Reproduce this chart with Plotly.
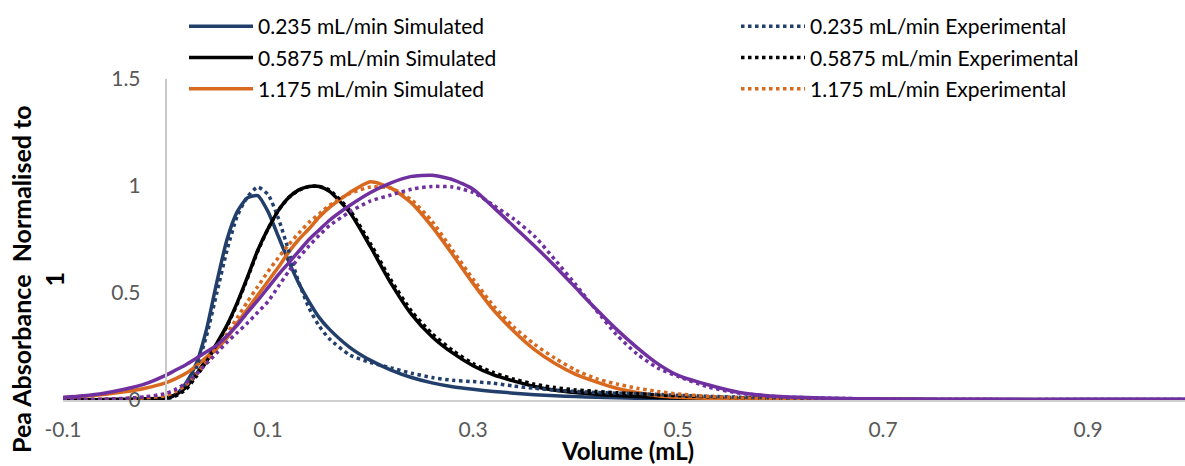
import plotly.graph_objects as go

# Elution volume grid (mL) shared by all profiles
volume = [-0.1, -0.08, -0.06, -0.04, -0.02, 0.0,
          0.01, 0.02, 0.03, 0.04, 0.05, 0.06, 0.07, 0.08, 0.09, 0.10,
          0.11, 0.12, 0.13, 0.14, 0.15, 0.16,
          0.18, 0.20, 0.22, 0.24, 0.26, 0.28, 0.30, 0.32, 0.34, 0.36,
          0.38, 0.40, 0.42, 0.44, 0.46, 0.48, 0.50,
          0.53, 0.56, 0.60, 0.65, 0.70, 0.80, 0.90, 1.0]

# Normalised absorbance profiles
sim_0235 = [0.0, 0.0, 0.0, 0.0, 0.001, 0.005,
            0.025, 0.08, 0.17, 0.33, 0.55, 0.75, 0.88, 0.945, 0.955, 0.88,
            0.765, 0.65, 0.545, 0.46, 0.385, 0.33,
            0.245, 0.185, 0.14, 0.105, 0.08, 0.062, 0.05, 0.04, 0.032, 0.025,
            0.02, 0.016, 0.013, 0.01, 0.008, 0.006, 0.005,
            0.004, 0.003, 0.002, 0.001, 0.001, 0.0, 0.0, 0.0]
exp_0235 = [0.0, 0.0, 0.0, 0.001, 0.002, 0.005,
            0.02, 0.07, 0.15, 0.30, 0.50, 0.70, 0.86, 0.95, 0.995, 0.96,
            0.85, 0.70, 0.55, 0.43, 0.345, 0.285,
            0.21, 0.175, 0.15, 0.125, 0.105, 0.092, 0.086, 0.078, 0.065, 0.055,
            0.046, 0.04, 0.035, 0.032, 0.03, 0.026, 0.022,
            0.017, 0.013, 0.01, 0.007, 0.005, 0.003, 0.002, 0.002]
sim_05875 = [0.0, 0.001, 0.002, 0.004, 0.006, 0.01,
             0.025, 0.06, 0.12, 0.19, 0.265, 0.35, 0.455, 0.575, 0.70, 0.80,
             0.885, 0.945, 0.982, 0.998, 0.998, 0.975,
             0.875, 0.715, 0.545, 0.40, 0.296, 0.22, 0.16, 0.117, 0.088, 0.063,
             0.046, 0.035, 0.027, 0.021, 0.016, 0.012, 0.009,
             0.006, 0.004, 0.003, 0.002, 0.001, 0.0, 0.0, 0.0]
exp_05875 = [0.0, 0.0, 0.001, 0.002, 0.004, 0.008,
             0.02, 0.05, 0.11, 0.18, 0.26, 0.345, 0.45, 0.57, 0.695, 0.80,
             0.885, 0.945, 0.98, 0.997, 0.998, 0.98,
             0.885, 0.73, 0.56, 0.415, 0.31, 0.232, 0.17, 0.128, 0.097, 0.074,
             0.058, 0.047, 0.04, 0.034, 0.029, 0.024, 0.02,
             0.015, 0.011, 0.008, 0.005, 0.004, 0.002, 0.002, 0.002]
sim_1175 = [0.012, 0.018, 0.026, 0.038, 0.055, 0.08,
            0.1, 0.125, 0.16, 0.2, 0.24, 0.29, 0.36, 0.425, 0.49, 0.555,
            0.62, 0.69, 0.75, 0.80, 0.855, 0.9,
            0.97, 1.02, 0.99, 0.92, 0.81, 0.68, 0.545, 0.42, 0.32, 0.235,
            0.17, 0.12, 0.085, 0.055, 0.035, 0.02, 0.013,
            0.008, 0.005, 0.003, 0.002, 0.001, 0.0, 0.0, 0.0]
exp_1175 = [0.002, 0.003, 0.004, 0.006, 0.01, 0.02,
            0.04, 0.07, 0.12, 0.18, 0.245, 0.31, 0.385, 0.46, 0.53, 0.6,
            0.665, 0.725, 0.78, 0.83, 0.87, 0.91,
            0.965, 0.995, 0.99, 0.935, 0.835, 0.70, 0.565, 0.44, 0.34, 0.26,
            0.195, 0.14, 0.1, 0.075, 0.055, 0.04, 0.028,
            0.017, 0.01, 0.006, 0.004, 0.003, 0.002, 0.001, 0.001]
sim_purple = [0.012, 0.02, 0.032, 0.05, 0.075, 0.115,
              0.14, 0.165, 0.195, 0.225, 0.255, 0.3, 0.35, 0.41, 0.465, 0.525,
              0.585, 0.64, 0.695, 0.75, 0.795, 0.84,
              0.91, 0.97, 1.015, 1.045, 1.05, 1.03, 0.985, 0.9, 0.81, 0.72,
              0.625, 0.525, 0.425, 0.33, 0.245, 0.17, 0.115,
              0.07, 0.035, 0.016, 0.008, 0.005, 0.003, 0.003, 0.003]
exp_purple = [0.0, 0.002, 0.004, 0.008, 0.015, 0.03,
              0.05, 0.08, 0.12, 0.17, 0.22, 0.27, 0.315, 0.36, 0.41, 0.46,
              0.53, 0.6, 0.665, 0.72, 0.77, 0.815,
              0.88, 0.93, 0.958, 0.985, 0.998, 0.995, 0.97, 0.91, 0.845, 0.765,
              0.655, 0.54, 0.42, 0.305, 0.215, 0.15, 0.11,
              0.06, 0.032, 0.015, 0.008, 0.005, 0.003, 0.003, 0.003]

x_tick_vals = [-0.1, 0.1, 0.3, 0.5, 0.7, 0.9]
x_tick_text = ["-0.1", "0.1", "0.3", "0.5", "0.7", "0.9"]
y_tick_vals = [0, 0.5, 1, 1.5]
y_tick_text = ["0", "0.5", "1", "1.5"]

NAVY = "#223F6B"
BLACK = "#000000"
ORANGE = "#D8691E"
PURPLE = "#7030A0"
FONT = "Lato, Carlito, Calibri, sans-serif"
LW = 3.5

# Plot-area geometry in pixels, used to place the free text in paper units
L, R, T, B = 63, 0, 79, 66
PW, PH = 1185 - L - R, 466 - T - B


def px_x(px):
    return (px - L) / PW


def px_y(py):
    return (466 - B - py) / PH


fig = go.Figure()

series = [
    ("0.235 mL/min Simulated", sim_0235, NAVY, "solid", "legend", True),
    ("0.5875 mL/min Simulated", sim_05875, BLACK, "solid", "legend", True),
    ("1.175 mL/min Simulated", sim_1175, ORANGE, "solid", "legend", True),
    ("0.235 mL/min Experimental", exp_0235, NAVY, "dot", "legend2", True),
    ("0.5875 mL/min Experimental", exp_05875, BLACK, "dot", "legend2", True),
    ("1.175 mL/min Experimental", exp_1175, ORANGE, "dot", "legend2", True),
    ("Simulated", sim_purple, PURPLE, "solid", "legend", False),
    ("Experimental", exp_purple, PURPLE, "dot", "legend2", False),
]

for name, ys, color, dash, leg, show in series:
    fig.add_trace(go.Scatter(
        x=volume, y=ys, name=name, mode="lines",
        line=dict(color=color, width=LW, dash=dash, shape="spline", smoothing=0.6),
        legend=leg, legendgroup=name, showlegend=show,
    ))

legend_common = dict(
    orientation="v", xanchor="left", yanchor="top",
    font=dict(family=FONT, size=21, color="#000000"),
    bgcolor="rgba(0,0,0,0)", itemwidth=64, tracegroupgap=1,
)

fig.update_layout(
    width=1185, height=466,
    margin=dict(l=L, r=R, t=T, b=B),
    paper_bgcolor="white", plot_bgcolor="white",
    font=dict(family=FONT, size=20, color="#595959"),
    xaxis=dict(
        range=[-0.1, 0.9945], tickvals=x_tick_vals, ticktext=x_tick_text,
        showgrid=False, zeroline=False, showline=True,
        linecolor="#D0D0D0", linewidth=1.5, ticks="",
        ticklabelstandoff=10, tickfont=dict(size=21, color="#595959"),
    ),
    yaxis=dict(
        range=[0, 1.5], tickvals=y_tick_vals, ticktext=y_tick_text,
        anchor="free", position=0.1 / 1.0945,
        showgrid=False, zeroline=False, showline=True,
        linecolor="#C8C8C8", linewidth=1.5, ticks="",
        ticklabelstandoff=20, tickfont=dict(size=21, color="#595959"),
    ),
    legend=dict(x=px_x(184), y=px_y(6), **legend_common),
    legend2=dict(x=px_x(736), y=px_y(6), **legend_common),
    annotations=[
        dict(
            text="<b>Volume (mL)</b>",
            xref="paper", yref="paper", x=px_x(627), y=px_y(451),
            xanchor="center", yanchor="middle", showarrow=False,
            font=dict(family=FONT, size=24, color="#000000"),
        ),
        dict(
            text="<b>Pea Absorbance  Normalised to<br>1</b>",
            xref="paper", yref="paper", x=px_x(37), y=px_y(279),
            xanchor="center", yanchor="middle", textangle=-90,
            showarrow=False, align="center",
            font=dict(family=FONT, size=25, color="#000000"),
        ),
    ],
)

fig.write_html("out.html")
